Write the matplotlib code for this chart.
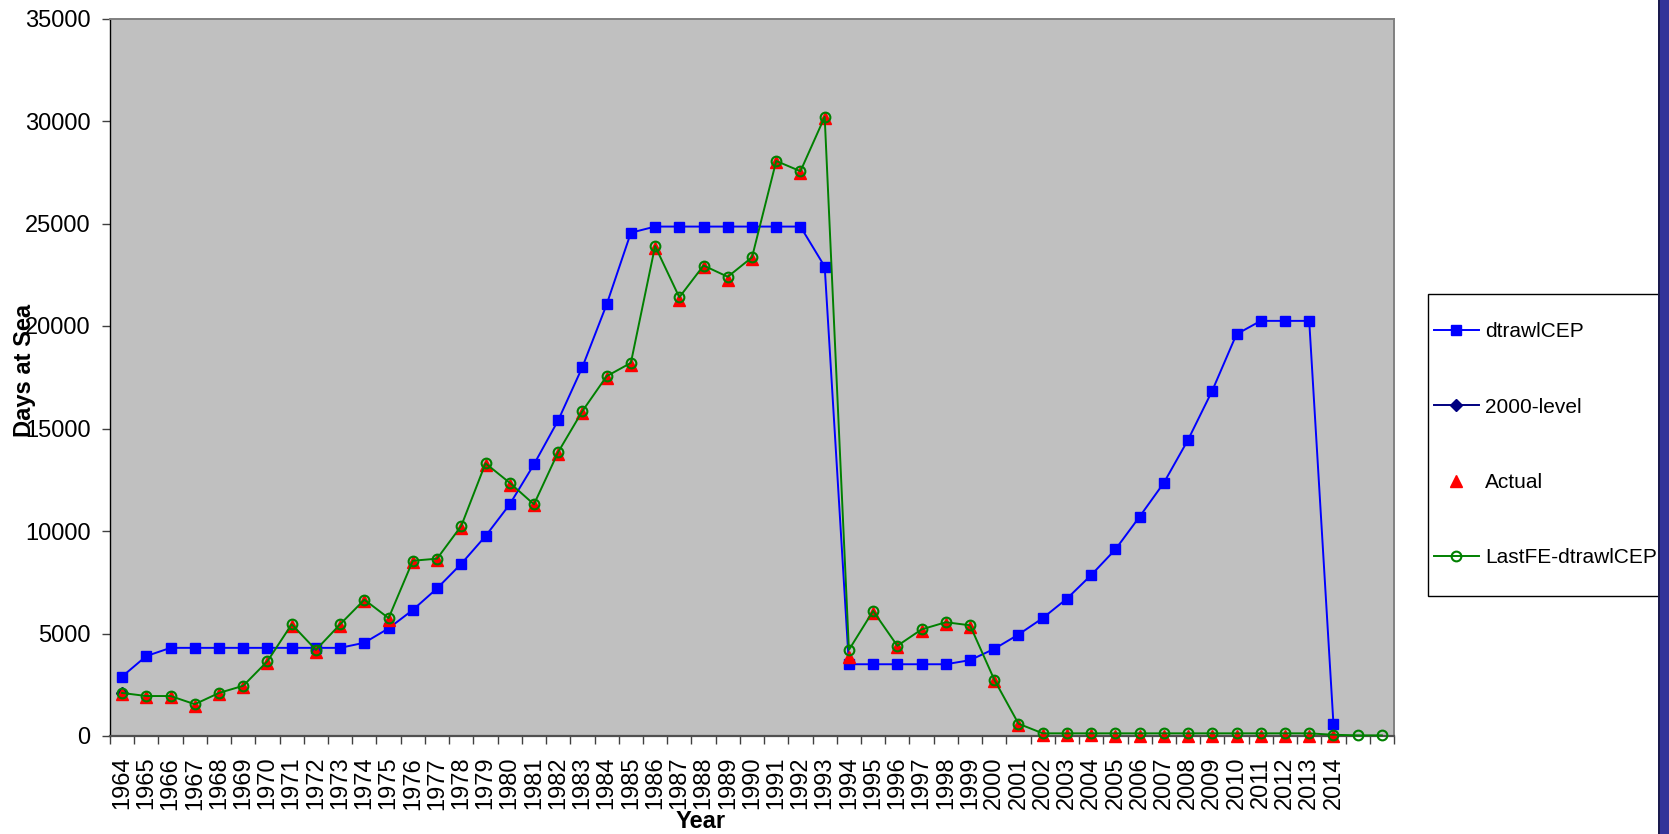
import matplotlib
matplotlib.use("Agg")
import matplotlib.pyplot as plt
from matplotlib.patches import Rectangle

plt.rcParams['font.family'] = ['Liberation Sans', 'DejaVu Sans']

year_labels = [str(y) for y in range(1964, 2015)] + ['', '']

dtrawlCEP = [2900, 3900, 4300, 4300, 4300, 4300, 4300, 4300, 4300, 4300,
             4550, 5250, 6150, 7200, 8400, 9750, 11300, 13250, 15400, 18000,
             21050, 24550, 24850, 24850, 24850, 24850, 24850, 24850, 24850, 22900,
             3500, 3500, 3500, 3500, 3500, 3700, 4250, 4950, 5750, 6700,
             7850, 9100, 10700, 12350, 14450, 16850, 19600, 20250, 20250, 20250,
             600]

level2000 = [2100]

actual = [2050, 1880, 1880, 1470, 2030, 2380, 3560, 5380, 4100, 5380,
          6580, 5680, 8480, 8580, 10170, 13230, 12250, 11250, 13780, 15780,
          17480, 18100, 23800, 21250, 22880, 22250, 23280, 27980, 27450, 30150,
          3850, 6000, 4330, 5130, 5480, 5300, 2680, 530, 50, 50,
          50, 20, 20, 20, 20, 20, 20, 20, 20, 20,
          20]

lastFE = [2100, 1950, 1950, 1550, 2100, 2450, 3650, 5450, 4200, 5450,
          6650, 5750, 8550, 8650, 10250, 13300, 12350, 11300, 13850, 15850,
          17550, 18200, 23900, 21400, 22950, 22400, 23350, 28050, 27550, 30200,
          4200, 6100, 4400, 5200, 5550, 5400, 2750, 600, 130, 130,
          130, 130, 130, 130, 130, 130, 130, 130, 130, 130,
          60, 30, 30]

W, H = 1669, 834
fig = plt.figure(figsize=(W / 100, H / 100), dpi=100)
fig.patch.set_facecolor('white')
ax = fig.add_axes([110 / W, 1 - 736 / H, (1394 - 110) / W, (736 - 18.5) / H])
ax.set_facecolor('#C0C0C0')

n = len(year_labels)
x_all = list(range(n))

l1, = ax.plot(x_all[:len(dtrawlCEP)], dtrawlCEP, color='#0000FF', lw=1.4, marker='s',
              ms=7.5, mec='#0000FF', mfc='#0000FF', clip_on=False, zorder=3)
l2, = ax.plot(x_all[:len(level2000)], level2000, color='#000080', lw=1.4, marker='D',
              ms=6, mec='#000080', mfc='#000080', clip_on=False, zorder=3)
l3, = ax.plot(x_all[:len(actual)], actual, ls='none', marker='^', ms=8.5,
              mec='#FF0000', mfc='#FF0000', clip_on=False, zorder=4)
l4, = ax.plot(x_all[:len(lastFE)], lastFE, color='#008000', lw=1.4, marker='o',
              ms=7, mec='#008000', mfc='none', mew=1.5, clip_on=False, zorder=5)

ax.set_xlim(-0.5, n - 0.5)
ax.set_ylim(0, 35000)
ax.set_yticks(range(0, 35001, 5000))
ax.tick_params(axis='y', labelsize=17, length=6, width=1, color='#404040', pad=8)

ax.set_xticks(x_all)
ax.set_xticklabels(year_labels, rotation=90, fontsize=17)
ax.set_xticks([i - 0.5 for i in range(n + 1)], minor=True)
ax.tick_params(axis='x', which='major', length=0, pad=15)
ax.tick_params(axis='x', which='minor', length=6, width=1, color='#404040')

ax.spines['left'].set_color('black')
ax.spines['left'].set_linewidth(1.0)
ax.spines['bottom'].set_color('#505050')
ax.spines['bottom'].set_linewidth(1.6)
ax.spines['top'].set_color('#808080')
ax.spines['top'].set_linewidth(1.4)
ax.spines['right'].set_color('#808080')
ax.spines['right'].set_linewidth(1.4)

fig.text(701 / W, 1 - 822 / H, 'Year', fontsize=17, fontweight='bold', ha='center', va='center')
fig.text(24 / W, 1 - 370 / H, 'Days at Sea', fontsize=17, fontweight='bold',
         rotation=90, ha='center', va='center')

# legend box
fig.patches.append(Rectangle((1428 / W, 1 - 596 / H), (1700 - 1428) / W, (596 - 294) / H,
                             transform=fig.transFigure, facecolor='white', edgecolor='black',
                             lw=1.0, zorder=1))
leg = fig.legend([l1, l2, l3, l4], ['dtrawlCEP', '2000-level', 'Actual', 'LastFE-dtrawlCEP'],
                 loc='center left', bbox_to_anchor=(1434 / W, 1 - 444.7 / H),
                 frameon=False, fontsize=15, handlelength=2.15, handletextpad=0.3,
                 labelspacing=2.7, borderpad=0, borderaxespad=0)
leg.set_zorder(2)

# dark strip at right edge
fig.patches.append(Rectangle((1659 / W, 0), (W - 1659) / W, 1, transform=fig.transFigure,
                             facecolor='#333399', edgecolor='none', zorder=10))
fig.patches.append(Rectangle((1658 / W, 0), 1.5 / W, 1, transform=fig.transFigure,
                             facecolor='#1a1a4d', edgecolor='none', zorder=10))

fig.savefig('out.png', dpi=100, facecolor='white')
